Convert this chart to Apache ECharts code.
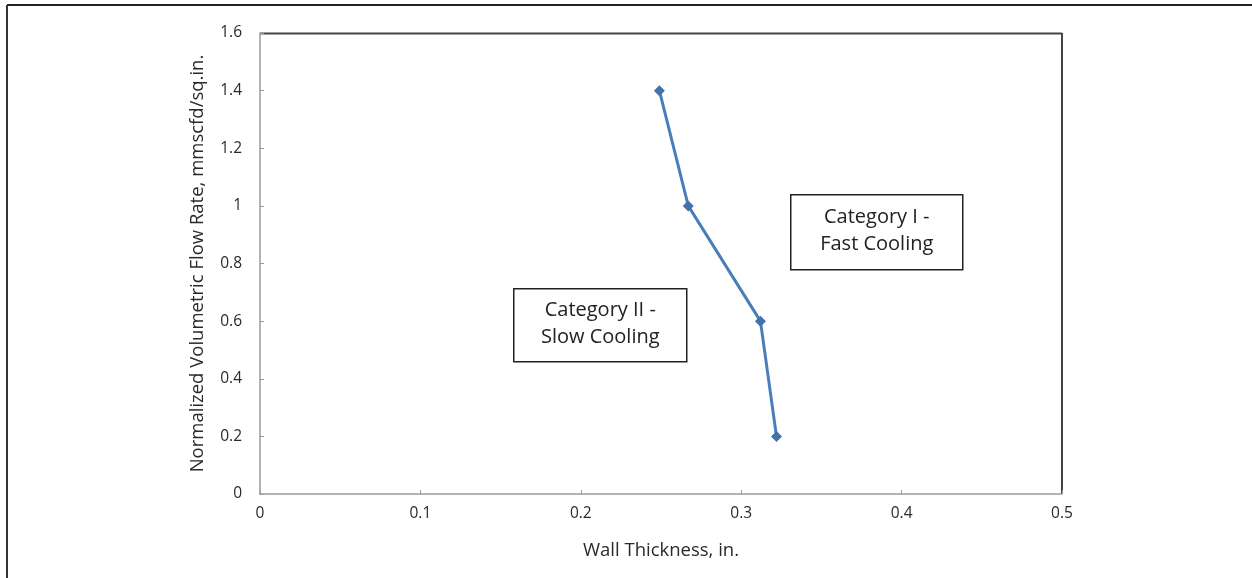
<!DOCTYPE html>
<html>
<head>
<meta charset="utf-8">
<script src="https://cdn.jsdelivr.net/npm/echarts@6/dist/echarts.min.js"></script>
<style>
  html, body { margin: 0; padding: 0; background: #fff; }
  #chart { width: 1252px; height: 578px; }
</style>
</head>
<body>
<div id="chart"></div>
<script>
// Wall thickness (in.) against normalized volumetric flow rate (mmscfd/sq.in.)
const wallThickness = [0.249, 0.267, 0.312, 0.322];
const flowRate = [1.4, 1.0, 0.6, 0.2];
const xTicks = [0, 0.1, 0.2, 0.3, 0.4, 0.5];
const yTicks = [0, 0.2, 0.4, 0.6, 0.8, 1, 1.2, 1.4, 1.6];
const regionLabels = ['Category I -\nFast Cooling', 'Category II -\nSlow Cooling'];

const FONT = '"Open Sans", Lato, sans-serif';
const chart = echarts.init(document.getElementById('chart'));

function fmt(v) { return String(Math.round(v * 10) / 10); }

chart.setOption({
  animation: false,
  backgroundColor: '#fff',
  grid: { left: 260, right: 190, top: 33, bottom: 84, show: false },
  xAxis: {
    type: 'value',
    min: xTicks[0], max: xTicks[xTicks.length - 1], interval: 0.1,
    name: 'Wall Thickness, in.',
    nameLocation: 'middle', nameGap: 47,
    nameTextStyle: { fontFamily: FONT, fontSize: 18.5, color: '#2a2a2a' },
    axisLine: { show: true, lineStyle: { color: '#9a9a9a', width: 1.5 } },
    axisTick: { show: true, inside: true, length: 4, lineStyle: { color: '#9a9a9a' } },
    axisLabel: { fontFamily: FONT, fontSize: 15.5, color: '#2a2a2a', margin: 12, formatter: fmt },
    splitLine: { show: false }
  },
  yAxis: {
    type: 'value',
    min: yTicks[0], max: yTicks[yTicks.length - 1], interval: 0.2,
    name: 'Normalized Volumetric Flow Rate, mmscfd/sq.in.',
    nameLocation: 'middle', nameGap: 53,
    nameTextStyle: { fontFamily: FONT, fontSize: 18.5, color: '#2a2a2a' },
    axisLine: { show: true, lineStyle: { color: '#9a9a9a', width: 1.5 } },
    axisTick: { show: true, inside: true, length: 4, lineStyle: { color: '#9a9a9a' } },
    axisLabel: { fontFamily: FONT, fontSize: 15.5, color: '#2a2a2a', margin: 18, formatter: fmt },
    splitLine: { show: false }
  },
  series: [{
    type: 'line',
    data: wallThickness.map((x, i) => [x, flowRate[i]]),
    symbol: 'diamond',
    symbolSize: 11,
    showSymbol: true,
    lineStyle: { color: '#4a7ebb', width: 3 },
    itemStyle: { color: '#4471a8' },
    z: 3
  }],
  graphic: [
    // outer frame (top and left edges)
    { type: 'line', shape: { x1: 7, y1: 5, x2: 1252, y2: 5 }, style: { stroke: '#222', lineWidth: 2 } },
    { type: 'line', shape: { x1: 7, y1: 5, x2: 7, y2: 578 }, style: { stroke: '#333', lineWidth: 2 } },
    // plot area top and right edges
    { type: 'line', shape: { x1: 260, y1: 33.5, x2: 1062, y2: 33.5 }, style: { stroke: '#444', lineWidth: 2 } },
    { type: 'line', shape: { x1: 1062, y1: 33, x2: 1062, y2: 494 }, style: { stroke: '#444', lineWidth: 2 } },
    // region annotations
    {
      type: 'group', left: 790, top: 194,
      children: [
        { type: 'rect', shape: { x: 0, y: 0, width: 172, height: 75 },
          style: { fill: '#fff', stroke: '#222', lineWidth: 1.5 } },
        { type: 'text', x: 86, y: 36,
          style: { text: regionLabels[0], fontFamily: FONT, fontSize: 20, fill: '#222',
                   align: 'center', verticalAlign: 'middle', lineHeight: 27 } }
      ]
    },
    {
      type: 'group', left: 513, top: 288,
      children: [
        { type: 'rect', shape: { x: 0, y: 0, width: 173, height: 73 },
          style: { fill: '#fff', stroke: '#222', lineWidth: 1.5 } },
        { type: 'text', x: 86.5, y: 35,
          style: { text: regionLabels[1], fontFamily: FONT, fontSize: 20, fill: '#222',
                   align: 'center', verticalAlign: 'middle', lineHeight: 27 } }
      ]
    }
  ]
});
</script>
</body>
</html>
